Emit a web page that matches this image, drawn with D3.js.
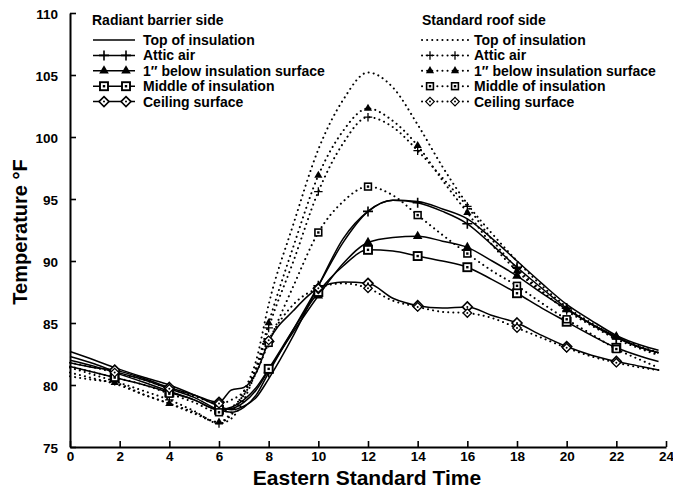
<!DOCTYPE html>
<html>
<head>
<meta charset="utf-8">
<script src="https://cdn.jsdelivr.net/npm/d3@7"></script>
<style>
body { margin: 0; background: #fff; }
text { font-family: "Liberation Sans", Arial, sans-serif; font-weight: bold; fill: #000; }
</style>
</head>
<body>
<div id="chart-area"></div>
<script>
// hours of day (Eastern Standard Time)
var hours = [0, 1, 1.8, 3, 4, 5, 6, 6.5, 7, 7.5, 8, 9, 10, 11, 12, 13, 14, 15, 16, 17, 18, 19, 20, 21, 22, 23, 23.7];
var markHours = [1.8, 4, 6, 8, 10, 12, 14, 16, 18, 20, 22];
var xTicks = [0, 2, 4, 6, 8, 10, 12, 14, 16, 18, 20, 22, 24];
var yTicks = [75, 80, 85, 90, 95, 100, 105, 110];

// radiant barrier side (solid)
var rbTop     = [82.7, 82.0, 81.4, 80.6, 80.0, 79.2, 78.3, 78.0, 78.3, 79.0, 80.5, 84.0, 88.0, 91.8, 94.0, 94.9, 94.8, 94.2, 93.4, 91.8, 90.0, 88.2, 86.5, 85.2, 84.0, 83.2, 82.8];
var rbAttic   = [82.3, 81.7, 81.1, 80.4, 79.7, 79.0, 78.0, 77.8, 78.2, 79.2, 81.0, 84.5, 88.0, 91.5, 94.0, 94.9, 94.7, 94.0, 93.0, 91.3, 89.5, 87.8, 86.2, 84.9, 83.8, 83.0, 82.6];
var rbBelow   = [82.0, 81.5, 81.0, 80.2, 79.5, 78.8, 78.0, 78.1, 78.6, 79.6, 81.2, 84.3, 87.2, 89.8, 91.5, 91.9, 92.0, 91.6, 91.1, 90.0, 88.8, 87.4, 86.1, 84.9, 83.9, 83.0, 82.6];
var rbMiddle  = [81.5, 81.0, 80.6, 80.0, 79.4, 78.8, 78.0, 78.2, 78.8, 79.8, 81.3, 84.5, 87.5, 89.6, 90.9, 90.8, 90.4, 90.0, 89.5, 88.5, 87.4, 86.2, 85.1, 84.0, 83.0, 82.3, 81.9];
var rbCeiling = [81.8, 81.4, 81.2, 80.5, 79.8, 79.2, 78.6, 79.6, 79.8, 81.0, 83.5, 86.0, 87.8, 88.3, 88.2, 87.0, 86.4, 86.2, 86.3, 85.6, 85.0, 84.0, 83.1, 82.4, 81.9, 81.5, 81.2];

// standard roof side (dotted)
var stTop     = [81.0, 80.5, 80.1, 79.2, 78.5, 77.7, 77.0, 77.8, 79.5, 82.0, 86.5, 93.0, 99.0, 103.0, 105.2, 104.0, 101.0, 97.6, 94.6, 92.2, 90.0, 88.0, 86.3, 85.0, 83.9, 83.1, 82.6];
var stAttic   = [81.4, 80.8, 80.3, 79.5, 78.8, 77.9, 76.9, 77.3, 78.8, 81.2, 84.6, 90.0, 95.6, 99.5, 101.6, 100.8, 98.9, 96.7, 94.4, 91.7, 89.4, 87.6, 86.0, 84.8, 83.7, 82.9, 82.4];
var stBelow   = [80.7, 80.4, 80.2, 79.2, 78.5, 77.8, 77.0, 77.6, 79.2, 81.5, 85.0, 91.2, 96.9, 100.5, 102.3, 101.3, 99.3, 96.5, 93.9, 91.3, 89.2, 87.5, 86.1, 84.9, 83.9, 83.0, 82.5];
var stMiddle  = [81.5, 81.0, 80.6, 80.0, 79.3, 78.6, 77.8, 78.2, 79.2, 81.0, 83.4, 88.0, 92.3, 94.8, 96.0, 95.3, 93.7, 92.1, 90.6, 89.2, 88.0, 86.6, 85.3, 84.1, 82.9, 82.0, 81.4];
var stCeiling = [81.8, 81.4, 81.0, 80.4, 79.7, 79.1, 78.5, 78.8, 79.5, 81.3, 83.6, 86.5, 87.8, 88.2, 87.8, 86.8, 86.3, 85.9, 85.8, 85.4, 84.6, 83.8, 83.0, 82.3, 81.8, 81.4, 81.2];

var labels = ["Top of insulation", "Attic air", "1\u2033 below insulation surface", "Middle of insulation", "Ceiling surface"];
var markers = ["none", "plus", "triangle", "square", "diamond"];

var series = [
    { side: "rb", values: rbTop, marker: "none" },
    { side: "rb", values: rbAttic, marker: "plus" },
    { side: "rb", values: rbBelow, marker: "triangle" },
    { side: "rb", values: rbMiddle, marker: "square" },
    { side: "rb", values: rbCeiling, marker: "diamond" },
    { side: "st", values: stTop, marker: "none" },
    { side: "st", values: stAttic, marker: "plus" },
    { side: "st", values: stBelow, marker: "triangle" },
    { side: "st", values: stMiddle, marker: "square" },
    { side: "st", values: stCeiling, marker: "diamond" }
];

var width = 673, height = 490;
var svg = d3.select("#chart-area").append("svg")
    .attr("width", width)
    .attr("height", height);

var x = d3.scaleLinear().domain([0, 24]).range([70, 666]);
var y = d3.scaleLinear().domain([75, 110]).range([447, 13]);

// axes
var bottomAxis = d3.axisBottom(x).tickValues(xTicks).tickSizeInner(-6).tickSizeOuter(0).tickPadding(4);
var leftAxis = d3.axisLeft(y).tickValues(yTicks).tickSizeInner(-6).tickSizeOuter(0).tickPadding(12);

var gx = svg.append("g")
    .attr("transform", "translate(0," + y(75) + ")")
    .call(bottomAxis);
var gy = svg.append("g")
    .attr("transform", "translate(" + x(0) + ",0)")
    .call(leftAxis);
[gx, gy].forEach(function (g) {
    g.select(".domain").attr("stroke", "#000").attr("stroke-width", 2);
    g.selectAll(".tick line").attr("stroke", "#000").attr("stroke-width", 1.6);
    g.selectAll(".tick text").attr("font-size", "13.5px").attr("font-family", "Liberation Sans, Arial, sans-serif").attr("font-weight", "bold");
});
gy.selectAll(".tick text").attr("dy", "0.4em");

// axis titles
svg.append("text")
    .attr("x", 367)
    .attr("y", 485)
    .attr("text-anchor", "middle")
    .attr("font-size", "21px")
    .text("Eastern Standard Time");

svg.append("text")
    .attr("transform", "translate(27," + 232 + ") rotate(-90)")
    .attr("text-anchor", "middle")
    .attr("font-size", "20px")
    .text("Temperature \u00B0F");

// marker drawing
function drawMarker(g, type, cx, cy, side) {
    var s = side === "rb" ? 1 : 0.85;
    var sw = side === "rb" ? 1.6 : 1.3;
    if (type === "plus") {
        g.append("path")
            .attr("d", "M" + (cx - 5 * s) + "," + cy + "H" + (cx + 5 * s) + "M" + cx + "," + (cy - 5 * s) + "V" + (cy + 5 * s))
            .attr("stroke", "#000").attr("stroke-width", sw).attr("fill", "none");
    } else if (type === "triangle") {
        g.append("path")
            .attr("d", d3.symbol().type(d3.symbolTriangle).size(40 * s * s)())
            .attr("transform", "translate(" + cx + "," + cy + ")")
            .attr("fill", "#000");
    } else if (type === "square") {
        g.append("rect")
            .attr("x", cx - 4 * s).attr("y", cy - 4 * s)
            .attr("width", 8 * s).attr("height", 8 * s)
            .attr("fill", "#fff").attr("stroke", "#000").attr("stroke-width", sw + 0.3);
        g.append("rect")
            .attr("x", cx - 1.2).attr("y", cy - 1.2).attr("width", 2.4).attr("height", 2.4)
            .attr("fill", "#000");
    } else if (type === "diamond") {
        var r = 5 * s;
        g.append("path")
            .attr("d", "M" + cx + "," + (cy - r) + "L" + (cx + r) + "," + cy + "L" + cx + "," + (cy + r) + "L" + (cx - r) + "," + cy + "Z")
            .attr("fill", "#fff").attr("stroke", "#000").attr("stroke-width", sw);
        g.append("circle")
            .attr("cx", cx).attr("cy", cy).attr("r", 1)
            .attr("fill", "#000");
    }
}

function styleLine(p, side) {
    if (side === "rb") {
        p.attr("stroke-width", 1.5);
    } else {
        p.attr("stroke-width", 2)
            .attr("stroke-dasharray", "0.1,5")
            .attr("stroke-linecap", "round");
    }
}

var line = d3.line()
    .x(function (d) { return x(d[0]); })
    .y(function (d) { return y(d[1]); })
    .curve(d3.curveMonotoneX);

var plot = svg.append("g");
series.forEach(function (s) {
    var pts = hours.map(function (h, i) { return [h, s.values[i]]; });
    var p = plot.append("path")
        .datum(pts)
        .attr("d", line)
        .attr("fill", "none")
        .attr("stroke", "#000");
    styleLine(p, s.side);
});

series.forEach(function (s) {
    if (s.marker === "none") return;
    hours.forEach(function (h, i) {
        if (markHours.indexOf(h) < 0) return;
        drawMarker(plot, s.marker, x(h), y(s.values[i]), s.side);
    });
});

// legends
function legend(side, title, tx, lx0, lx1, m0, m1, textX) {
    var g = svg.append("g");
    g.append("text")
        .attr("x", tx).attr("y", 25)
        .attr("font-size", "14px")
        .text(title);
    labels.forEach(function (lab, i) {
        var cy = 40 + i * 15.4;
        var p = g.append("line")
            .attr("x1", lx0).attr("x2", lx1)
            .attr("y1", cy).attr("y2", cy)
            .attr("stroke", "#000");
        styleLine(p, side);
        if (markers[i] !== "none") {
            drawMarker(g, markers[i], m0, cy, side);
            drawMarker(g, markers[i], m1, cy, side);
        }
        g.append("text")
            .attr("x", textX).attr("y", cy + 5)
            .attr("font-size", "14px")
            .text(lab);
    });
}
legend("rb", "Radiant barrier side", 92, 93, 135, 104, 126, 143);
legend("st", "Standard roof side", 422, 422, 468, 430, 455, 474);
</script>
</body>
</html>
